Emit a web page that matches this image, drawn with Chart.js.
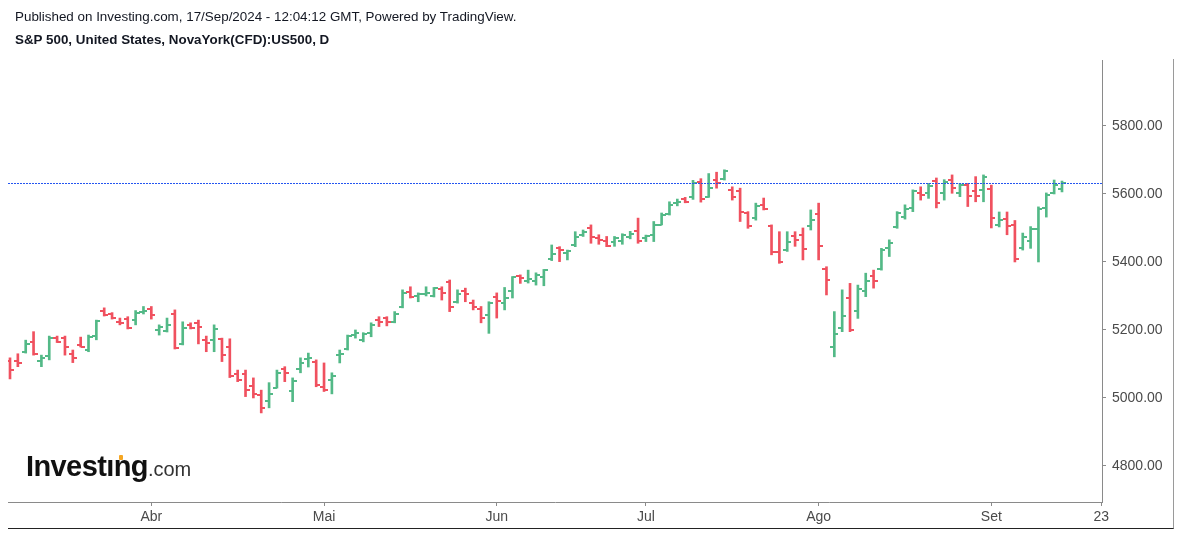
<!DOCTYPE html>
<html>
<head>
<meta charset="utf-8">
<script src="https://cdn.jsdelivr.net/npm/chart.js@4.4.1/dist/chart.umd.min.js"></script>
<style>
    body { margin: 0; background: #fff; overflow: hidden; }
    #wrap { position: relative; width: 1181px; height: 534px; font-family: "Liberation Sans", Arial, sans-serif; }
    #chart { position: absolute; left: 0; top: 0; }
    .hdr { position: absolute; left: 15px; font-size: 13.4px; color: #131722; white-space: nowrap; }
    #frame { position: absolute; left: 8px; top: 59px; width: 1166px; height: 470px;
             border-right: 1px solid #9a9a9a; border-bottom: 1px solid #222; box-sizing: border-box; }
    #logo { position: absolute; left: 26px; top: 450px; white-space: nowrap; color: #111; }
    #logo b { font-size: 29px; letter-spacing: -0.6px; }
    #logo span { font-size: 20px; color: #333; }
    #dot { position: absolute; left: 119px; top: 455px; width: 4px; height: 5px; background: #f5a623; border-radius: 1px; }
</style>
</head>
<body>
<div id="wrap">
    <div id="frame"></div>
    <canvas id="chart" width="1181" height="534"></canvas>
    <div class="hdr" style="top:9px">Published on Investing.com, 17/Sep/2024 - 12:04:12 GMT, Powered by TradingView.</div>
    <div class="hdr" style="top:32px;font-weight:bold">S&amp;P 500, United States, NovaYork(CFD):US500, D</div>
    <div id="logo"><b>Invest&#305;ng</b><span>.com</span></div>
    <div id="dot"></div>
</div>
<script>
// Daily OHLC, 5 Mar 2024 - 16 Sep 2024 (one value per trading day)
const opens = [
    5110, 5108, 5136, 5165, 5110, 5124, 5176, 5176, 5128, 5155, 5142, 5182, 5256, 5246, 5224, 5232, 5228, 5252,
    5262, 5200, 5198, 5246, 5160, 5214, 5220, 5170, 5170, 5172, 5150, 5070, 5070, 5035, 5008, 4990, 5030, 5086, 5020, 5086, 5115, 5105,
    5032, 5052, 5125, 5143, 5186, 5170, 5190, 5228, 5234, 5222, 5268, 5312, 5300, 5306, 5300, 5320, 5342, 5282, 5316, 5280, 5262, 5245,
    5298, 5280, 5316, 5358, 5345, 5343, 5355, 5410, 5440, 5425, 5450, 5478, 5500, 5470, 5462, 5460, 5462, 5474, 5490,
    5470, 5478, 5510, 5540, 5572, 5584, 5590, 5636, 5592, 5640, 5645, 5612, 5608, 5545, 5530, 5568, 5505, 5430, 5435, 5476, 5478, 5506,
    5540, 5378, 5150, 5206, 5295, 5255, 5315, 5358, 5378, 5442, 5502, 5532, 5558, 5604, 5604, 5638, 5604, 5640, 5602, 5626, 5610, 5612,
    5614, 5508, 5526, 5508, 5442, 5462, 5497, 5558, 5604, 5614
];
const highs = [
    5118, 5130, 5170, 5195, 5126, 5182, 5182, 5182, 5141, 5179, 5185, 5229, 5265, 5251, 5235, 5239, 5257, 5269,
    5269, 5215, 5235, 5259, 5224, 5221, 5229, 5182, 5215, 5176, 5174, 5082, 5082, 5059, 5023, 5045, 5082, 5092, 5059, 5118, 5132, 5112,
    5103, 5074, 5141, 5185, 5200, 5192, 5221, 5239, 5239, 5254, 5318, 5327, 5309, 5327, 5325, 5327, 5347, 5318, 5323, 5288, 5269, 5283,
    5309, 5325, 5357, 5362, 5376, 5368, 5378, 5450, 5445, 5435, 5489, 5494, 5509, 5480, 5475, 5475, 5483, 5490, 5529,
    5479, 5519, 5544, 5577, 5585, 5590, 5640, 5645, 5660, 5664, 5671, 5621, 5617, 5548, 5573, 5588, 5509, 5489, 5489, 5489, 5500, 5553,
    5573, 5386, 5254, 5318, 5337, 5332, 5367, 5376, 5440, 5465, 5548, 5568, 5612, 5621, 5631, 5647, 5642, 5656, 5631, 5631, 5651, 5656,
    5626, 5547, 5547, 5522, 5485, 5504, 5562, 5603, 5641, 5638
];
const lows = [
    5056, 5092, 5132, 5126, 5092, 5112, 5163, 5126, 5104, 5150, 5136, 5171, 5241, 5232, 5215, 5203, 5215, 5247,
    5232, 5185, 5194, 5144, 5156, 5203, 5159, 5136, 5136, 5107, 5060, 5048, 5004, 5000, 4956, 4971, 5029, 5048, 4989, 5074, 5091, 5033,
    5019, 5012, 5103, 5141, 5176, 5165, 5180, 5210, 5212, 5221, 5265, 5294, 5283, 5300, 5297, 5288, 5254, 5279, 5283, 5259, 5221, 5190,
    5235, 5259, 5294, 5337, 5338, 5332, 5330, 5404, 5401, 5406, 5445, 5475, 5455, 5452, 5445, 5446, 5452, 5468, 5455,
    5460, 5460, 5509, 5538, 5565, 5574, 5584, 5576, 5590, 5617, 5641, 5582, 5519, 5499, 5523, 5553, 5421, 5396, 5431, 5446, 5406, 5494,
    5406, 5303, 5121, 5195, 5195, 5234, 5298, 5323, 5376, 5416, 5499, 5526, 5548, 5582, 5587, 5559, 5582, 5602, 5592, 5563, 5577, 5577,
    5500, 5503, 5480, 5400, 5435, 5440, 5400, 5532, 5600, 5606
];
const closes = [
    5082, 5104, 5158, 5128, 5118, 5175, 5166, 5150, 5118, 5150, 5180, 5226, 5243, 5236, 5220, 5205, 5250, 5257,
    5245, 5208, 5214, 5148, 5206, 5205, 5210, 5162, 5202, 5125, 5065, 5053, 5024, 5013, 4970, 5012, 5074, 5072, 5050, 5102, 5118, 5038,
    5022, 5066, 5130, 5182, 5190, 5189, 5216, 5224, 5222, 5248, 5310, 5298, 5305, 5310, 5322, 5308, 5268, 5306, 5307, 5268, 5236, 5280,
    5284, 5293, 5355, 5352, 5350, 5362, 5376, 5422, 5434, 5432, 5474, 5488, 5474, 5466, 5448, 5470, 5478, 5483, 5462,
    5476, 5510, 5538, 5568, 5575, 5577, 5633, 5586, 5618, 5632, 5668, 5590, 5546, 5505, 5565, 5556, 5428, 5400, 5460, 5464, 5438, 5524,
    5448, 5348, 5188, 5242, 5200, 5320, 5345, 5345, 5436, 5456, 5545, 5556, 5610, 5598, 5622, 5572, 5636, 5618, 5627, 5594, 5593, 5649,
    5530, 5522, 5505, 5410, 5472, 5496, 5555, 5597, 5627, 5633
];

// Bar index of the first trading day of each month (and a future date on the right)
const monthTicks = [18, 40, 62, 81, 103, 125, 139];
const monthLabels = ['Abr', 'Mai', 'Jun', 'Jul', 'Ago', 'Set', '23'];
const priceTicks = [4800, 5000, 5200, 5400, 5600, 5800];

const upColor = '#53b987';
const downColor = '#f0515f';
const axisColor = '#8a8a8a';
const labelColor = '#4a4a4a';

// Small canvases used as point styles for the open (left) and close (right) ticks
function tickImage(color, side) {
    const c = document.createElement('canvas');
    c.width = 8;
    c.height = 2;
    const g = c.getContext('2d');
    g.fillStyle = color;
    g.fillRect(side === 'left' ? 0 : 4, 0, 4, 2);
    return c;
}
const openUp = tickImage(upColor, 'left');
const openDown = tickImage(downColor, 'left');
const closeUp = tickImage(upColor, 'right');
const closeDown = tickImage(downColor, 'right');

const isUp = closes.map((c, i) => c >= opens[i]);
const barColors = isUp.map(u => u ? upColor : downColor);

// Dotted line at the last price
const lastPriceLine = {
    id: 'lastPriceLine',
    afterDatasetsDraw(chart) {
        const y = Math.round(chart.scales.y.getPixelForValue(closes[closes.length - 1])) + 0.5;
        const area = chart.chartArea;
        const ctx = chart.ctx;
        ctx.save();
        ctx.strokeStyle = '#2455f0';
        ctx.lineWidth = 1;
        ctx.setLineDash([2, 1]);
        ctx.beginPath();
        ctx.moveTo(area.left, y);
        ctx.lineTo(area.right, y);
        ctx.stroke();
        ctx.restore();
    }
};

const ctx = document.getElementById('chart').getContext('2d');

new Chart(ctx, {
    type: 'bar',
    data: {
        datasets: [
            {
                type: 'line',
                label: 'Open',
                data: opens.map((o, i) => ({ x: i, y: o })),
                showLine: false,
                pointStyle: isUp.map(u => u ? openUp : openDown),
                pointRadius: 4
            },
            {
                type: 'line',
                label: 'Close',
                data: closes.map((c, i) => ({ x: i, y: c })),
                showLine: false,
                pointStyle: isUp.map(u => u ? closeUp : closeDown),
                pointRadius: 4
            },
            {
                label: 'High-Low',
                data: lows.map((l, i) => ({ x: i, y: [l, highs[i]] })),
                backgroundColor: barColors,
                borderWidth: 0,
                barThickness: 2,
                grouped: false
            }
        ]
    },
    options: {
        responsive: false,
        animation: false,
        devicePixelRatio: 1,
        events: [],
        layout: { padding: { left: 8, top: 60, right: 0, bottom: 0 } },
        plugins: {
            legend: { display: false },
            tooltip: { enabled: false }
        },
        scales: {
            x: {
                type: 'linear',
                offset: false,
                min: -0.255,
                max: 139.095,
                afterBuildTicks: (scale) => { scale.ticks = monthTicks.map(v => ({ value: v })); },
                afterFit: (scale) => { scale.height = 32; },
                ticks: {
                    autoSkip: false,
                    maxRotation: 0,
                    padding: 3,
                    color: labelColor,
                    font: { family: 'Liberation Sans', size: 14 },
                    callback: (value) => monthLabels[monthTicks.indexOf(value)]
                },
                grid: {
                    offset: false,
                    drawOnChartArea: false,
                    drawTicks: true,
                    tickLength: 4,
                    color: axisColor
                },
                border: { display: true, color: axisColor, width: 1 }
            },
            y: {
                position: 'right',
                min: 4694,
                max: 5994,
                afterBuildTicks: (scale) => { scale.ticks = priceTicks.map(v => ({ value: v })); },
                afterFit: (scale) => { scale.width = 79; },
                ticks: {
                    padding: 6,
                    color: labelColor,
                    font: { family: 'Liberation Sans', size: 14 },
                    callback: (value) => value.toFixed(2)
                },
                grid: {
                    drawOnChartArea: false,
                    drawTicks: true,
                    tickLength: 4,
                    color: axisColor
                },
                border: { display: true, color: axisColor, width: 1 }
            }
        }
    },
    plugins: [lastPriceLine]
});
</script>
</body>
</html>
